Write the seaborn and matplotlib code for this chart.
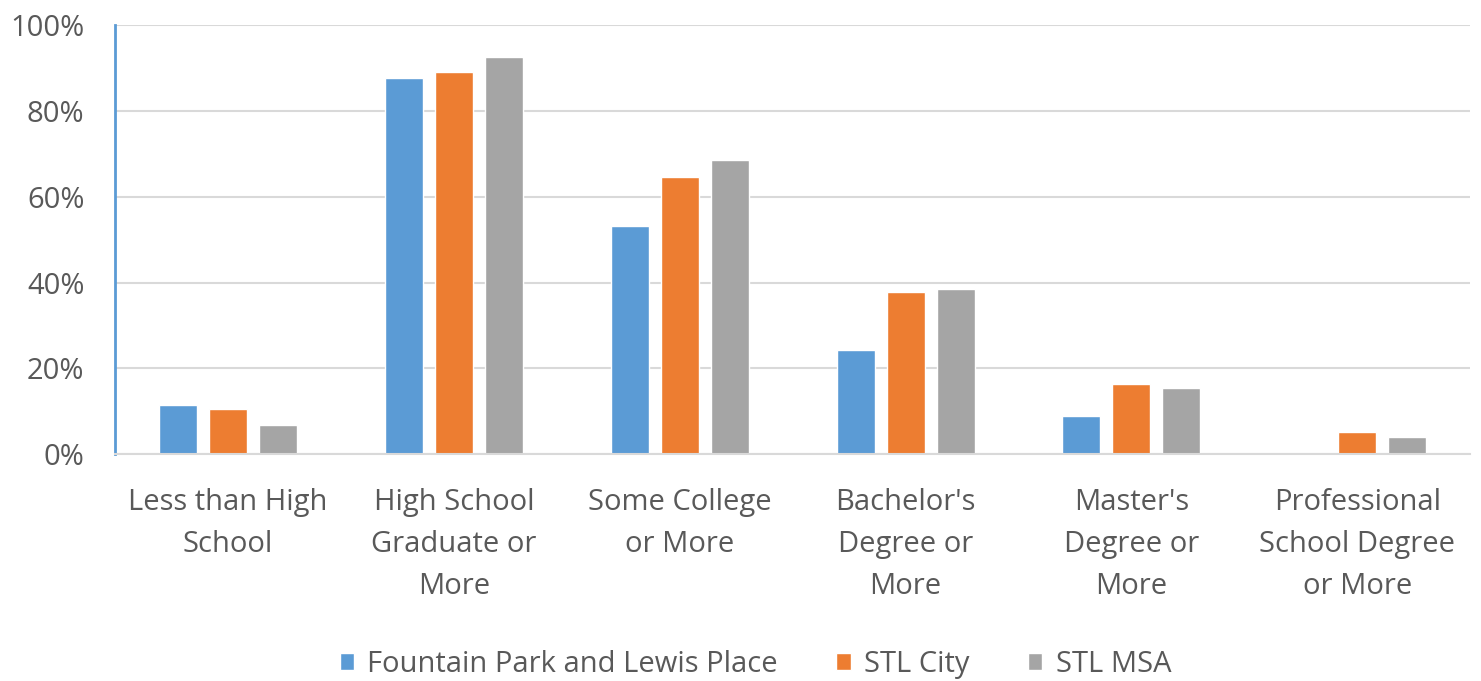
import seaborn as sns
import matplotlib.pyplot as plt
import pandas as pd
from matplotlib.ticker import PercentFormatter

categories = [
    "Less than High\nSchool",
    "High School\nGraduate or\nMore",
    "Some College\nor More",
    "Bachelor's\nDegree or\nMore",
    "Master's\nDegree or\nMore",
    "Professional\nSchool Degree\nor More",
]
series = ["Fountain Park and Lewis Place", "STL City", "STL MSA"]
fountain_park = [11.4, 87.7, 53.2, 24.3, 8.9, 0.0]
stl_city = [10.6, 89.2, 64.6, 37.7, 16.3, 5.1]
stl_msa = [6.7, 92.7, 68.5, 38.5, 15.4, 4.1]
colors = ["#5B9BD5", "#ED7D31", "#A5A5A5"]

df = pd.DataFrame({
    "category": categories * 3,
    "series": [s for s in series for _ in categories],
    "value": fountain_park + stl_city + stl_msa,
})

sns.set_style("white")
plt.rcParams["font.family"] = ["Open Sans", "DejaVu Sans"]

fig = plt.figure(figsize=(14.81, 6.81), dpi=100)
ax = fig.add_axes([0.0777, 0.333, 0.915, 0.63])

sns.barplot(data=df, x="category", y="value", hue="series", palette=colors,
            width=0.664, gap=0.24, ax=ax, saturation=1, errorbar=None)

ax.set_ylim(0, 100)
ax.set_yticks(range(0, 101, 20))
ax.yaxis.set_major_formatter(PercentFormatter(decimals=0))
ax.grid(axis="y", color="#D9D9D9", linewidth=1.5)
ax.set_axisbelow(True)
ax.set_xlabel("")
ax.set_ylabel("")
ax.set_xlim(-0.5, len(categories) - 0.5)

for side in ["top", "right"]:
    ax.spines[side].set_visible(False)
ax.spines["left"].set_color("#5B9BD5")
ax.spines["left"].set_linewidth(2)
ax.spines["bottom"].set_color("#D9D9D9")
ax.spines["bottom"].set_linewidth(1.5)

ax.tick_params(axis="y", labelsize=21, labelcolor="#595959", length=0, pad=22)
ax.tick_params(axis="x", labelsize=21, labelcolor="#595959", length=0, pad=24)
for lbl in ax.get_xticklabels():
    lbl.set_linespacing(1.6)

ax.get_legend().remove()
handles, labels = ax.get_legend_handles_labels()
fig.legend(handles, labels, loc="center", bbox_to_anchor=(0.51, 0.024), ncol=3,
           frameon=False, fontsize=21, labelcolor="#595959", handlelength=0.5,
           handleheight=0.5, handletextpad=0.45, columnspacing=2.0)

fig.savefig("out.png", dpi=100)
